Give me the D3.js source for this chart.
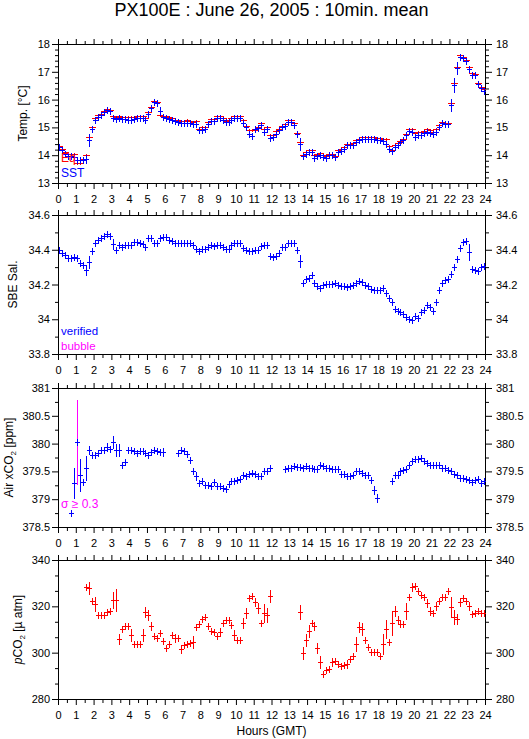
<!DOCTYPE html>
<html><head><meta charset="utf-8">
<script src="https://cdn.jsdelivr.net/npm/d3@7"></script>
<style>body{margin:0;background:#fff}svg text{font-family:"Liberation Sans",Arial,sans-serif}</style>
</head><body><svg id="c" width="529" height="739"></svg>
<script>
// ---- DATA (10-minute means, time = start of interval in minutes GMT) ----
const timeMin = [
0,10,20,30,40,50,60,70,80,90,100,110,
120,130,140,150,160,170,180,190,200,210,220,230,
240,250,260,270,280,290,300,310,320,330,340,350,
360,370,380,390,400,410,420,430,440,450,460,470,
480,490,500,510,520,530,540,550,560,570,580,590,
600,610,620,630,640,650,660,670,680,690,700,710,
720,730,740,750,760,770,780,790,800,810,820,830,
840,850,860,870,880,890,900,910,920,930,940,950,
960,970,980,990,1000,1010,1020,1030,1040,1050,1060,1070,
1080,1090,1100,1110,1120,1130,1140,1150,1160,1170,1180,1190,
1200,1210,1220,1230,1240,1250,1260,1270,1280,1290,1300,1310,
1320,1330,1340,1350,1360,1370,1380,1390,1400,1410,1420,1430];

const tempEq = [
14.34,14.22,14.12,14.05,14.05,14.05,13.72,13.72,13.86,14.00,14.64,15.02,
15.33,15.43,15.50,15.60,15.66,15.64,15.41,15.36,15.41,15.36,15.36,15.36,
15.36,15.38,15.42,15.42,15.42,15.35,15.55,15.75,15.96,15.93,15.45,15.42,
15.41,15.39,15.33,15.27,15.25,15.24,15.24,15.25,15.22,15.20,15.22,14.96,
15.00,15.02,15.20,15.29,15.29,15.41,15.42,15.33,15.24,15.25,15.33,15.41,
15.41,15.41,15.27,15.06,14.90,14.90,14.90,15.02,15.17,14.93,15.00,14.71,
14.74,14.87,14.95,15.06,15.12,15.27,15.27,15.17,14.80,14.46,14.02,14.10,
14.19,14.19,14.00,14.04,14.08,13.99,13.98,14.06,14.06,13.98,14.17,14.22,
14.30,14.40,14.41,14.45,14.54,14.60,14.66,14.66,14.66,14.64,14.64,14.63,
14.63,14.60,14.57,14.33,14.20,14.37,14.45,14.52,14.59,14.77,14.93,14.93,
14.80,14.83,14.82,14.88,14.93,14.90,14.83,14.93,15.08,15.20,15.17,15.17,
15.89,16.61,17.19,17.61,17.54,17.43,17.19,16.94,16.92,16.61,16.47,16.39];

const tempSST = [
14.28,14.18,14.06,13.98,13.96,13.94,13.83,13.83,13.83,13.86,14.54,14.96,
15.27,15.38,15.45,15.56,15.61,15.60,15.33,15.30,15.34,15.29,15.29,15.28,
15.28,15.30,15.35,15.35,15.35,15.27,15.48,15.68,15.92,15.87,15.58,15.36,
15.35,15.32,15.27,15.22,15.19,15.17,15.17,15.17,15.15,15.14,15.14,14.90,
14.92,14.94,15.14,15.23,15.24,15.33,15.35,15.27,15.18,15.18,15.27,15.35,
15.35,15.35,15.15,15.00,14.78,14.70,14.94,14.98,15.10,14.82,14.93,14.63,
14.66,14.76,14.90,15.00,15.05,15.20,15.20,15.08,14.75,14.39,13.96,14.05,
14.10,14.10,13.89,13.96,13.99,13.94,13.89,13.99,13.99,13.94,14.10,14.16,
14.24,14.35,14.35,14.38,14.47,14.54,14.59,14.59,14.59,14.59,14.58,14.54,
14.54,14.50,14.42,14.24,14.14,14.30,14.38,14.47,14.53,14.71,14.86,14.85,
14.66,14.74,14.74,14.80,14.85,14.80,14.77,14.85,15.00,15.15,15.11,15.11,
15.80,16.53,17.13,17.55,17.49,17.40,17.10,16.89,16.87,16.55,16.41,16.31];

const tempSSTsd = [
0.02,0.02,0.02,0.02,0.02,0.02,0.02,0.02,0.02,0.15,0.20,0.03,
0.02,0.02,0.02,0.02,0.02,0.02,0.10,0.02,0.02,0.02,0.02,0.02,
0.02,0.02,0.02,0.02,0.02,0.02,0.02,0.02,0.02,0.04,0.15,0.02,
0.02,0.02,0.02,0.02,0.02,0.02,0.02,0.02,0.02,0.02,0.02,0.02,
0.02,0.02,0.02,0.02,0.02,0.02,0.02,0.02,0.02,0.02,0.02,0.02,
0.02,0.02,0.02,0.02,0.08,0.04,0.02,0.02,0.02,0.12,0.02,0.02,
0.02,0.02,0.02,0.02,0.02,0.02,0.02,0.02,0.12,0.20,0.02,0.02,
0.02,0.02,0.02,0.02,0.02,0.02,0.02,0.02,0.02,0.02,0.02,0.02,
0.02,0.02,0.02,0.02,0.02,0.02,0.02,0.02,0.02,0.02,0.02,0.02,
0.02,0.02,0.02,0.08,0.02,0.02,0.02,0.02,0.02,0.02,0.02,0.02,
0.08,0.02,0.02,0.02,0.02,0.02,0.02,0.02,0.02,0.02,0.02,0.02,
0.20,0.25,0.20,0.02,0.02,0.02,0.12,0.06,0.02,0.02,0.02,0.02];

const salinity = [
34.400,34.380,34.370,34.355,34.350,34.360,34.350,34.325,34.315,34.285,34.330,34.390,
34.440,34.455,34.465,34.480,34.490,34.480,34.435,34.400,34.430,34.415,34.425,34.430,
34.430,34.445,34.445,34.440,34.435,34.415,34.470,34.465,34.440,34.440,34.470,34.475,
34.475,34.455,34.450,34.440,34.440,34.440,34.440,34.440,34.440,34.430,34.405,34.390,
34.405,34.405,34.415,34.425,34.420,34.430,34.430,34.415,34.405,34.405,34.425,34.437,
34.440,34.440,34.410,34.400,34.390,34.390,34.400,34.400,34.420,34.430,34.430,34.365,
34.360,34.365,34.380,34.417,34.417,34.437,34.440,34.440,34.400,34.335,34.210,34.230,
34.236,34.254,34.210,34.190,34.180,34.195,34.204,34.200,34.200,34.208,34.195,34.190,
34.190,34.185,34.190,34.197,34.208,34.223,34.213,34.197,34.190,34.175,34.170,34.170,
34.170,34.180,34.150,34.122,34.100,34.058,34.045,34.040,34.033,34.015,34.000,33.996,
34.020,34.010,34.040,34.054,34.080,34.068,34.050,34.100,34.170,34.208,34.227,34.233,
34.262,34.300,34.345,34.408,34.447,34.450,34.385,34.287,34.282,34.278,34.300,34.305];

const salinitySd = [
0.005,0.005,0.005,0.005,0.005,0.005,0.005,0.005,0.005,0.030,0.035,0.005,
0.005,0.005,0.005,0.005,0.005,0.005,0.028,0.005,0.005,0.005,0.005,0.005,
0.005,0.005,0.005,0.005,0.005,0.005,0.012,0.005,0.005,0.005,0.005,0.005,
0.005,0.005,0.005,0.005,0.005,0.005,0.005,0.005,0.005,0.012,0.005,0.005,
0.005,0.005,0.005,0.005,0.005,0.005,0.005,0.005,0.005,0.005,0.005,0.005,
0.005,0.005,0.005,0.005,0.005,0.005,0.005,0.005,0.005,0.012,0.005,0.005,
0.005,0.005,0.005,0.005,0.005,0.005,0.005,0.005,0.005,0.036,0.005,0.005,
0.005,0.005,0.005,0.005,0.005,0.005,0.005,0.005,0.005,0.005,0.005,0.005,
0.005,0.005,0.005,0.005,0.005,0.005,0.005,0.005,0.005,0.005,0.005,0.005,
0.005,0.005,0.015,0.005,0.015,0.005,0.005,0.005,0.005,0.005,0.005,0.005,
0.015,0.012,0.005,0.005,0.005,0.015,0.005,0.015,0.015,0.005,0.005,0.005,
0.020,0.018,0.018,0.012,0.005,0.005,0.046,0.005,0.005,0.005,0.005,0.005];

const airXCO2 = [
null,null,null,null,378.75,379.29,380.03,379.44,379.31,379.56,379.89,379.80,
379.80,379.83,379.89,379.89,379.93,379.91,380.02,379.89,379.89,379.62,379.67,379.89,
379.89,379.87,379.83,379.87,379.86,379.83,379.80,379.85,379.89,379.87,379.85,379.85,
null,null,null,null,379.83,379.89,379.86,379.81,379.71,379.51,379.41,379.29,
379.32,379.26,379.26,379.23,379.31,379.23,379.23,379.20,379.18,379.27,379.32,379.32,
379.34,379.37,379.44,379.41,379.45,379.48,379.45,379.41,379.41,379.50,379.50,379.57,
null,null,null,null,379.54,379.56,379.56,379.60,379.58,379.58,379.57,379.60,
379.57,379.56,379.54,379.54,379.62,379.60,379.56,379.56,379.54,379.54,379.54,379.46,
379.45,379.42,379.41,379.44,379.50,379.50,379.48,379.44,379.44,379.35,379.17,379.02,
null,null,null,null,379.33,379.44,379.44,379.50,379.53,379.54,379.62,379.69,
379.72,379.72,379.74,379.68,379.66,379.62,379.62,379.61,379.61,379.57,379.56,379.53,
379.50,379.46,379.44,379.38,379.39,379.37,379.35,379.31,379.35,379.36,379.29,379.32];

const airXCO2sd = [
0.03,0.03,0.03,0.03,0.03,0.27,0.75,0.28,0.03,0.21,0.08,0.03,
0.03,0.03,0.03,0.03,0.07,0.03,0.10,0.10,0.10,0.03,0.06,0.03,
0.03,0.03,0.03,0.03,0.03,0.03,0.03,0.03,0.03,0.03,0.03,0.07,
0.03,0.03,0.03,0.03,0.03,0.06,0.06,0.03,0.05,0.06,0.08,0.03,
0.03,0.03,0.03,0.03,0.05,0.03,0.03,0.03,0.03,0.03,0.03,0.03,
0.03,0.03,0.03,0.03,0.03,0.03,0.03,0.03,0.03,0.03,0.03,0.03,
0.03,0.03,0.03,0.03,0.03,0.03,0.03,0.03,0.03,0.03,0.03,0.03,
0.03,0.03,0.03,0.03,0.03,0.03,0.03,0.03,0.03,0.03,0.03,0.03,
0.03,0.03,0.03,0.03,0.03,0.03,0.03,0.03,0.03,0.03,0.08,0.07,
0.03,0.03,0.03,0.03,0.06,0.03,0.03,0.03,0.03,0.03,0.03,0.05,
0.03,0.03,0.03,0.03,0.03,0.03,0.03,0.03,0.03,0.03,0.03,0.03,
0.03,0.03,0.03,0.03,0.03,0.03,0.03,0.03,0.06,0.03,0.03,0.03];

const pCO2 = [
null,null,null,null,null,null,null,null,null,328.4,328.0,322.2,
321.0,316.4,316.4,316.4,317.4,317.8,322.6,322.6,305.8,310.1,311.6,311.6,
307.7,303.6,303.6,303.6,307.7,317.4,316.4,311.6,307.0,306.2,308.7,305.1,
302.2,303.6,307.7,306.2,306.2,301.6,303.3,303.6,304.0,304.5,310.9,312.3,
314.6,315.2,311.3,309.4,309.1,307.2,309.1,313.0,314.2,314.2,312.0,307.7,
305.5,305.5,312.8,317.1,323.6,324.3,321.7,319.3,312.8,317.1,316.4,324.6,
null,null,null,null,null,null,null,null,null,317.5,299.7,305.5,
309.4,313.0,311.6,302.2,295.8,290.7,292.5,292.8,295.8,296.4,294.9,294.2,
294.6,294.9,297.1,298.6,303.6,310.9,310.3,305.5,302.6,300.1,300.1,300.1,
298.6,303.8,310.3,304.5,313.0,317.8,314.2,312.5,312.5,317.8,324.1,328.4,
328.7,326.8,325.1,323.9,321.4,318.1,317.1,320.0,322.5,324.1,324.1,326.5,
319.7,315.2,314.5,321.7,323.6,322.2,320.0,316.7,317.1,317.8,317.1,317.1];

const pCO2sd = [
0.6,0.6,0.6,0.6,0.6,0.6,0.6,0.6,0.6,0.6,2.5,0.6,
3.0,0.6,0.6,0.6,0.6,0.6,3.3,4.8,2.3,0.6,0.6,0.6,
2.4,0.6,0.6,0.6,2.7,2.2,2.0,1.6,0.6,0.6,0.6,0.6,
0.6,0.6,0.6,1.6,0.6,1.6,0.6,0.6,0.6,2.7,0.6,0.6,
0.6,0.6,0.6,0.6,0.6,0.6,1.8,0.6,0.6,0.6,0.6,2.0,
0.6,0.6,2.0,2.0,0.6,0.6,1.8,2.0,0.6,4.0,3.0,2.6,
0.6,0.6,0.6,0.6,0.6,0.6,0.6,0.6,0.6,2.9,2.7,2.5,
2.5,0.6,1.8,2.0,2.7,0.6,0.6,0.6,1.8,0.6,0.6,0.6,
0.6,1.6,0.6,0.6,2.9,2.0,2.5,0.6,0.6,0.6,0.6,0.6,
0.6,4.2,4.0,0.6,5.0,2.2,1.8,0.6,0.6,3.6,0.6,1.8,
0.6,0.6,0.6,0.6,1.8,1.8,0.6,1.8,0.6,0.6,0.6,0.6,
4.3,2.9,2.3,1.8,0.6,0.6,1.8,0.6,0.6,0.6,0.6,0.6];

// tick labels
const hourTicks = [0,1,2,3,4,5,6,7,8,9,10,11,12,13,14,15,16,17,18,19,20,21,22,23,24];
const tempTicks = [13,14,15,16,17,18];
const salTicks = [33.8,34,34.2,34.4,34.6];
const airTicks = [378.5,379,379.5,380,380.5,381];
const pco2Ticks = [280,300,320,340];

// ---- LAYOUT ----
const svg = d3.select("#c");
const x = d3.scaleLinear().domain([0,24]).range([58,485]);
const halfTicks = hourTicks.slice(0,-1).map(h => h + 0.5);
const RED = "#ff0000", BLUE = "#0000ff", MAG = "#ff00ff";

const panels = [
  {top:44, bottom:183, domain:[13,18], ticks:tempTicks, minorStep:0.2, fmt:d3.format("d"), labelX:23},
  {top:215, bottom:354, domain:[33.8,34.6], ticks:salTicks, minorStep:0.1, fmt:d => d3.format("")(+d.toFixed(1)), labelX:13},
  {top:388, bottom:527, domain:[378.5,381], ticks:airTicks, minorStep:0.25, fmt:d => d3.format("")(d), labelX:9},
  {top:560, bottom:699, domain:[280,340], ticks:pco2Ticks, minorStep:20/3, fmt:d3.format("d"), labelX:18}
];

function noDomain(s){ s.select(".domain").remove(); s.selectAll("text").attr("font-size",11).attr("font-family",'"Liberation Sans",Arial,sans-serif').attr("fill","#000"); }

panels.forEach(p => {
  p.y = d3.scaleLinear().domain(p.domain).range([p.bottom, p.top]);
  const g = svg.append("g");
  p.g = g;
  const minor = d3.range(p.domain[0], p.domain[1] + 1e-9, p.minorStep)
    .filter(v => !p.ticks.some(t => Math.abs(t - v) < 1e-6));
  g.append("g").attr("transform",`translate(0,${p.bottom+1})`)
    .call(d3.axisBottom(x).tickValues(hourTicks).tickSize(5).tickPadding(6).tickSizeOuter(0).tickFormat(d3.format("d"))).call(noDomain);
  g.append("g").attr("transform",`translate(0,${p.bottom+1})`)
    .call(d3.axisBottom(x).tickValues(halfTicks).tickSize(3).tickSizeOuter(0).tickFormat("")).call(noDomain);
  g.append("g").attr("transform",`translate(0,${p.top})`)
    .call(d3.axisTop(x).tickValues(hourTicks).tickSize(5).tickSizeOuter(0).tickFormat("")).call(noDomain);
  g.append("g").attr("transform",`translate(0,${p.top})`)
    .call(d3.axisTop(x).tickValues(halfTicks).tickSize(3).tickSizeOuter(0).tickFormat("")).call(noDomain);
  g.append("g").attr("transform","translate(58,0)")
    .call(d3.axisLeft(p.y).tickValues(p.ticks).tickSize(6).tickPadding(2).tickSizeOuter(0).tickFormat(p.fmt)).call(noDomain);
  g.append("g").attr("transform","translate(58,0)")
    .call(d3.axisLeft(p.y).tickValues(minor).tickSize(3).tickSizeOuter(0).tickFormat("")).call(noDomain);
  g.append("g").attr("transform","translate(486,0)")
    .call(d3.axisRight(p.y).tickValues(p.ticks).tickSize(6).tickPadding(4).tickSizeOuter(0).tickFormat(p.fmt)).call(noDomain);
  g.append("g").attr("transform","translate(486,0)")
    .call(d3.axisRight(p.y).tickValues(minor).tickSize(3).tickSizeOuter(0).tickFormat("")).call(noDomain);
  g.append("rect").attr("x",58.5).attr("y",p.top+0.5).attr("width",427).attr("height",p.bottom-p.top)
    .attr("fill","none").attr("stroke","#000").attr("stroke-width",1);
});

// ---- MARKS ----
function drawSeries(p, vals, sds, color, o) {
  const g = p.g.append("g").attr("shape-rendering","crispEdges").attr("stroke-width",1);
  const pts = vals.map((v,i) => ({v, i})).filter(d => d.v != null).map(d => {
    const cx = Math.round(x((timeMin[d.i] + 5) / 60)) + 0.5;
    const cy = Math.round(p.y(d.v)) + 0.5;
    const err = sds ? Math.round(Math.abs(p.y(d.v + sds[d.i]) - p.y(d.v))) : 0;
    const flagged = o.flag != null && sds && sds[d.i] >= o.flag;
    return {cx, cy, err, flagged};
  });
  g.selectAll("line.fb").data(pts.filter(d => d.flagged)).join("line").attr("class","fb")
    .attr("x1", d => d.cx).attr("x2", d => d.cx)
    .attr("y1", d => d.cy - d.err - 0.5).attr("y2", d => d.cy + d.err + 0.5)
    .attr("stroke", o.flagColor);
  g.selectAll("line.v").data(pts).join("line").attr("class","v")
    .attr("x1", d => d.cx).attr("x2", d => d.cx)
    .attr("y1", d => d.cy - (d.flagged ? o.minArm : Math.max(o.minArm, d.err)) - 0.5)
    .attr("y2", d => d.cy + (d.flagged ? o.minArm : Math.max(o.minArm, d.err)) + 0.5)
    .attr("stroke", color);
  g.selectAll("line.h").data(pts).join("line").attr("class","h")
    .attr("x1", d => Math.max(58.5, d.cx - o.hw)).attr("x2", d => Math.min(485.5, d.cx + o.hw))
    .attr("y1", d => d.cy).attr("y2", d => d.cy)
    .attr("stroke", color);
}

drawSeries(panels[0], tempEq, null, RED, {minArm:1, hw:3.5});
drawSeries(panels[0], tempSST, tempSSTsd, BLUE, {minArm:3, hw:2.5});
drawSeries(panels[1], salinity, salinitySd, BLUE, {minArm:3, hw:2.5});
drawSeries(panels[2], airXCO2, airXCO2sd, BLUE, {minArm:3, hw:2.5, flag:0.3, flagColor:MAG});
drawSeries(panels[3], pCO2, pCO2sd, RED, {minArm:3, hw:2.5});

// ---- TEXT ----
svg.append("text").attr("x",271.5).attr("y",16).attr("text-anchor","middle")
  .attr("font-size",18).text("PX100E : June 26, 2005 : 10min. mean");
svg.append("text").attr("x",271.5).attr("y",735).attr("text-anchor","middle")
  .attr("font-size",12).text("Hours (GMT)");

function yLabel(p, build) {
  const t = svg.append("text").attr("text-anchor","middle").attr("font-size",12)
    .attr("dy","0.35em")
    .attr("transform",`translate(${p.labelX},${(p.top+p.bottom)/2}) rotate(-90)`);
  build(t);
}
yLabel(panels[0], t => t.text("Temp. [°C]"));
yLabel(panels[1], t => t.text("SBE Sal."));
yLabel(panels[2], t => {
  t.append("tspan").text("Air xCO");
  t.append("tspan").attr("font-size",8).attr("dy",3).text("2");
  t.append("tspan").attr("dy",-3).text(" [ppm]");
});
yLabel(panels[3], t => {
  t.append("tspan").attr("font-style","italic").text("p");
  t.append("tspan").text("CO");
  t.append("tspan").attr("font-size",8).attr("dy",3).text("2");
  t.append("tspan").attr("dy",-3).text(" [\u00b5 atm]");
});

svg.append("text").attr("x",61).attr("y",162).attr("font-size",12).attr("fill",RED).text("Eq");
svg.append("text").attr("x",61).attr("y",177).attr("font-size",12).attr("fill",BLUE).text("SST");
svg.append("text").attr("x",61).attr("y",335).attr("font-size",11.5).attr("fill",BLUE).text("verified");
svg.append("text").attr("x",61).attr("y",349.5).attr("font-size",11.5).attr("fill",MAG).text("bubble");
svg.append("text").attr("x",61).attr("y",508).attr("font-size",12).attr("fill",MAG).text("\u03c3 \u2265 0.3");
</script>
</body></html>
